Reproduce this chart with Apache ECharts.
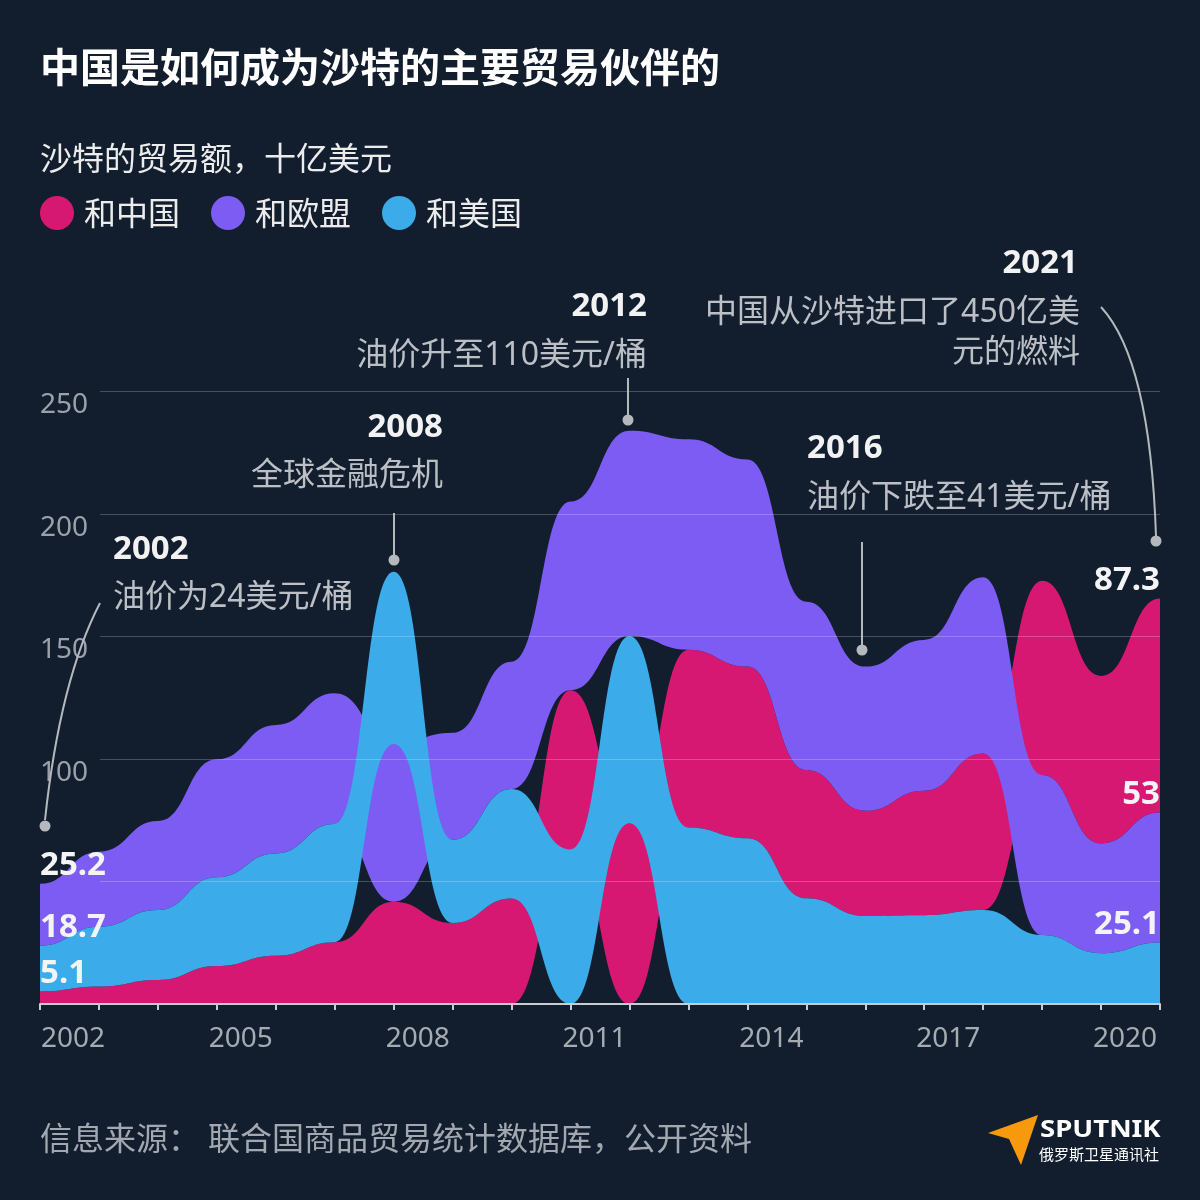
<!DOCTYPE html>
<html>
<head>
<meta charset="utf-8">
<script src="https://cdn.jsdelivr.net/npm/echarts@6/dist/echarts.min.js"></script>
<style>
html,body{margin:0;padding:0;background:#121e2e;}
#chart{width:1200px;height:1200px;}
</style>
</head>
<body>
<div id="chart"></div>
<script>
// ---- data (billion USD, Saudi trade) ----
const years = ['2002','2003','2004','2005','2006','2007','2008','2009','2010','2011','2012','2013','2014','2015','2016','2017','2018','2019','2020','2021'];
const china = [5.1, 7.1, 9.8, 15.5, 19.7, 25.2, 41.7, 33.0, 43.0, 64.9, 73.7, 72.5, 70.0, 52.3, 42.9, 50.8, 63.9, 79.2, 68.3, 87.3];
const eu    = [25.2, 30.6, 36.3, 48.1, 52.4, 53.3, 64.3, 43.6, 51.9, 76.9, 83.7, 85.8, 84.5, 68.7, 58.8, 61.5, 71.8, 65.3, 44.8, 53];
const us    = [18.7, 24.4, 28.5, 36.2, 41.7, 48.2, 70.3, 34.0, 44.7, 63.1, 76.4, 72.0, 67.6, 43.1, 35.9, 36.2, 38.3, 28.1, 20.7, 25.1];
const seriesNames = ['和中国', '和欧盟', '和美国'];
const yTicks = [50, 100, 150, 200, 250];

const title = '中国是如何成为沙特的主要贸易伙伴的';
const subtitle = '沙特的贸易额，十亿美元';
const sourceLabel = '信息来源：';
const sourceText = '联合国商品贸易统计数据库，公开资料';
const annoYears = ['2002', '2008', '2012', '2016', '2021'];
const annoTexts = ['油价为24美元/桶', '全球金融危机', '油价升至110美元/桶', '油价下跌至41美元/桶', '中国从沙特进口了450亿美\n元的燃料'];

// ---- styles ----
const COLORS = ['#d61872', '#7c5cf3', '#3babe9'];
const BG = '#121e2e';
const FONT = '"Noto Sans", "Noto Sans CJK SC", sans-serif';
const CJK = '"Noto Sans CJK SC", "Noto Sans", sans-serif';

// ---- sorted stacking (smallest at bottom for each year) ----
const vals = [china, eu, us];
const n = years.length;
const lower = vals.map(() => []), upper = vals.map(() => []);
for (let i = 0; i < n; i++) {
  const order = [0, 1, 2].sort((a, b) => vals[a][i] - vals[b][i]);
  let acc = 0;
  order.forEach(s => { lower[s][i] = acc; acc += vals[s][i]; upper[s][i] = acc; });
}

function bumpSeg(p0, p1) {
  const xm = (p0[0] + p1[0]) / 2;
  return ' C' + xm + ' ' + p0[1] + ' ' + xm + ' ' + p1[1] + ' ' + p1[0] + ' ' + p1[1];
}
function bandPath(api, s) {
  const top = upper[s].map((v, i) => api.coord([i, v]));
  const bot = lower[s].map((v, i) => api.coord([i, v]));
  let d = 'M' + top[0][0] + ' ' + top[0][1];
  for (let i = 1; i < n; i++) d += bumpSeg(top[i - 1], top[i]);
  d += ' L' + bot[n - 1][0] + ' ' + bot[n - 1][1];
  for (let i = n - 2; i >= 0; i--) d += bumpSeg(bot[i + 1], bot[i]);
  return d + ' Z';
}

const bandSeries = [0, 1, 2].map(s => ({
  type: 'custom',
  name: seriesNames[s],
  coordinateSystem: 'cartesian2d',
  silent: true,
  z: 2 + s,
  itemStyle: { color: COLORS[s] },
  data: [[0, 0]],
  renderItem: (params, api) => ({
    type: 'path',
    shape: { pathData: bandPath(api, s) },
    style: { fill: COLORS[s], stroke: null }
  })
}));

const gridSeries = {
  type: 'custom',
  name: 'grid',
  coordinateSystem: 'cartesian2d',
  silent: true,
  z: 8,
  data: [[0, 0]],
  renderItem: (params, api) => {
    const cs = params.coordSys;
    return {
      type: 'group',
      children: yTicks.map(v => {
        const y = Math.round(api.coord([0, v])[1]) + 0.5;
        return { type: 'line', shape: { x1: cs.x + 60, y1: y, x2: cs.x + cs.width, y2: y },
                 style: { stroke: 'rgba(255,255,255,0.22)', lineWidth: 1 } };
      })
    };
  }
};

const labelSeries = {
  type: 'custom',
  name: 'labels',
  coordinateSystem: 'cartesian2d',
  silent: true,
  z: 12,
  data: [[0, 0]],
  renderItem: (params, api) => {
    const kids = [];
    [0, n - 1].forEach(i => {
      [0, 1, 2].forEach(s => {
        const p = api.coord([i, upper[s][i]]);
        kids.push({
          type: 'text',
          x: p[0], y: p[1] - 18,
          style: {
            text: String(vals[s][i]),
            font: 'bold 33px ' + FONT,
            fill: '#f4f4f6',
            textAlign: i === 0 ? 'left' : 'right',
            textVerticalAlign: 'middle',
            align: i === 0 ? 'left' : 'right',
            verticalAlign: 'middle'
          }
        });
      });
    });
    return { type: 'group', children: kids };
  }
};

function txt(x, y, text, font, fill, align, extra, props) {
  return Object.assign({
    type: 'text', x: x, y: y, z: 30,
    style: Object.assign({ text: text, font: font, fill: fill,
      textAlign: align || 'left', align: align || 'left',
      textVerticalAlign: 'middle', verticalAlign: 'middle' }, extra || {})
  }, props || {});
}
const YR = '#f2f2f2', DESC = '#bcc0c6', LN = '#b5b9be';
const yrFont = 'bold 33px ' + FONT, descFont = '32px ' + FONT;
function dot(x, y) { return { type: 'circle', z: 30, shape: { cx: x, cy: y, r: 5.5 }, style: { fill: LN } }; }
function vline(x, y1, y2) { return { type: 'line', z: 30, shape: { x1: x, y1: y1, x2: x, y2: y2 }, style: { stroke: LN, lineWidth: 2 } }; }
function curve(x1, y1, cx, cy, x2, y2) { return { type: 'bezierCurve', z: 30, shape: { x1: x1, y1: y1, cpx1: cx, cpy1: cy, x2: x2, y2: y2 }, style: { stroke: LN, lineWidth: 2, fill: null } }; }

const graphics = [
  txt(40, 67, title, 'bold 40px ' + CJK, '#ffffff'),
  txt(40, 158, subtitle, '32px ' + CJK, '#ececec'),
  // annotations
  txt(113, 550, annoYears[0], yrFont, YR),
  txt(113, 598, annoTexts[0], descFont, DESC),
  curve(100, 603, 60, 680, 45, 820), dot(45, 826),
  txt(443, 428, annoYears[1], yrFont, YR, 'right'),
  txt(443, 476, annoTexts[1], descFont, DESC, 'right'),
  vline(394, 513, 556), dot(394, 560),
  txt(647, 307, annoYears[2], yrFont, YR, 'right'),
  txt(647, 356, annoTexts[2], descFont, DESC, 'right'),
  vline(628, 378, 416), dot(628, 420),
  txt(807, 449, annoYears[3], yrFont, YR),
  txt(807, 498, annoTexts[3], descFont, DESC),
  vline(862, 542, 645), dot(862, 650),
  txt(1078, 264, annoYears[4], yrFont, YR, 'right'),
  txt(1080, 333, annoTexts[4], descFont, DESC, 'right', { lineHeight: 40 }),
  curve(1101, 307, 1150, 360, 1156, 536), dot(1156, 541),
  // footer
  txt(40, 1138, sourceLabel, '32px ' + CJK, '#a3a8b0'),
  txt(208, 1138, sourceText, '32px ' + CJK, '#a3a8b0'),
  { type: 'polygon', z: 30, shape: { points: [[1038, 1115], [988, 1133], [1009, 1139], [1021, 1165]] }, style: { fill: '#f7990c' } },
  txt(1040, 1130, 'SPUTNIK', 'bold 24px ' + FONT, '#ffffff', 'left', null, { scaleX: 1.15 }),
  txt(1039, 1154, '俄罗斯卫星通讯社', '15px ' + CJK, '#ffffff', 'left')
];

const chart = echarts.init(document.getElementById('chart'), null, { renderer: 'canvas' });
chart.setOption({
  backgroundColor: BG,
  animation: false,
  textStyle: { fontFamily: FONT },
  grid: { left: 40, right: 40, top: 391, bottom: 196, containLabel: false },
  legend: {
    left: 40, top: 196, padding: 0, itemGap: 31, itemWidth: 34, itemHeight: 34,
    icon: 'circle', selectedMode: false,
    textStyle: { color: '#ececec', fontSize: 32, fontFamily: CJK, padding: [0, 0, 0, 5] },
    data: seriesNames.map((nm, s) => ({ name: nm, icon: 'circle', itemStyle: { color: COLORS[s] } }))
  },
  xAxis: {
    type: 'category', data: years, boundaryGap: false, z: 10,
    axisLine: { show: true, lineStyle: { color: '#c9ccd1', width: 2 } },
    axisTick: { show: true, interval: 0, length: 6, lineStyle: { color: '#c9ccd1', width: 2 } },
    axisLabel: {
      interval: 2, color: '#a6abb2', fontSize: 28, margin: 21, padding: [0, 0, 0, 48], fontFamily: FONT,
      formatter: (v, idx) => (idx === 0 ? '{first|' + v + '}' : v),
      rich: { first: { color: '#a6abb2', fontSize: 28, fontFamily: FONT, padding: [0, 0, 0, 18] } }
    },
    splitLine: { show: false }
  },
  yAxis: {
    type: 'value', min: 0, max: 250, interval: 50,
    axisLine: { show: false }, axisTick: { show: false }, splitLine: { show: false },
    axisLabel: {
      inside: true, margin: 0, align: 'left', verticalAlign: 'top', lineHeight: 28,
      color: '#9ca1a9', fontSize: 28, fontFamily: FONT,
      formatter: v => (v >= 100 ? String(v) : '')
    }
  },
  graphic: { elements: graphics },
  series: bandSeries.concat([gridSeries, labelSeries])
});
</script>
</body>
</html>
